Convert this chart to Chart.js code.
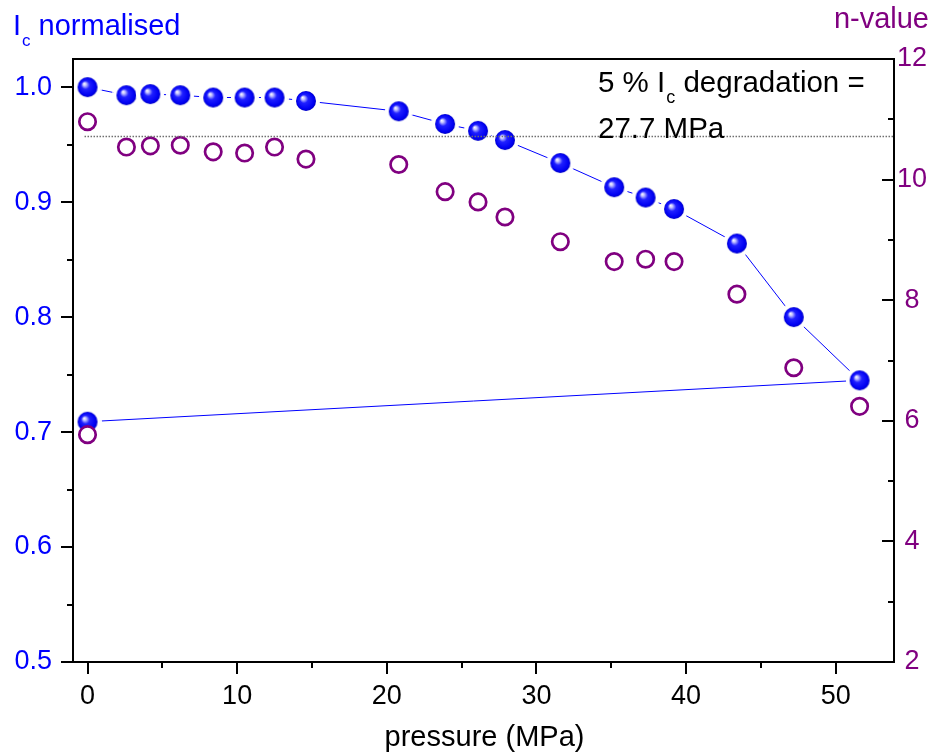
<!DOCTYPE html>
<html>
<head>
<meta charset="utf-8">
<script src="https://cdn.jsdelivr.net/npm/chart.js@4.4.0/dist/chart.umd.min.js"></script>
<style>
  html, body { margin: 0; padding: 0; background: #fff; }
  #wrap { width: 937px; height: 754px; }
</style>
</head>
<body>
<div id="wrap"><canvas id="pressureChart" width="937" height="754"></canvas></div>
<script>
// pressure steps, in measurement order (last point = back at 0 MPa)
const pressure = [0, 2.6, 4.2, 6.2, 8.4, 10.5, 12.5, 14.6, 20.8, 23.9, 26.1, 27.9, 31.6, 35.2, 37.3, 39.2, 43.4, 47.2, 51.6, 0];
const icNormalised = [1.000, 0.993, 0.994, 0.993, 0.991, 0.991, 0.991, 0.988, 0.979, 0.968, 0.962, 0.954, 0.934, 0.913, 0.904, 0.894, 0.864, 0.800, 0.745, 0.709];
const nValue = [10.96, 10.54, 10.56, 10.57, 10.46, 10.44, 10.54, 10.34, 10.25, 9.80, 9.63, 9.38, 8.97, 8.64, 8.68, 8.64, 8.10, 6.88, 6.24, 5.77];

// 5 % degradation reference line
const degradationX = [-0.2, 54];
const degradationY = [0.957, 0.957];

const xTickLabels = ['0', '10', '20', '30', '40', '50'];
const icTickLabels = ['0.5', '0.6', '0.7', '0.8', '0.9', '1.0'];
const nTickLabels = ['2', '4', '6', '8', '10', '12'];

const BLUE = '#0000ff';
const PURPLE = '#800080';
const FONT = "'Liberation Sans', Arial, sans-serif";

function findLabel(list, v) {
    return list.find(l => Math.abs(Number(l) - v) < 1e-6) || '';
}

// shaded ball marker with a white gap around it (line stops short of the marker)
const sphere = (() => {
    const r = 10, halo = 4, size = 2 * (r + halo);
    const c = document.createElement('canvas');
    c.width = size; c.height = size;
    const g = c.getContext('2d');
    const m = size / 2;
    g.fillStyle = '#fff';
    g.beginPath(); g.arc(m, m, r + halo, 0, Math.PI * 2); g.fill();
    const grad = g.createRadialGradient(m - 3.5, m - 3.5, 0, m, m, r);
    grad.addColorStop(0, '#ffffff');
    grad.addColorStop(0.16, '#c4c4ff');
    grad.addColorStop(0.42, '#2020ff');
    grad.addColorStop(0.85, '#0000f2');
    grad.addColorStop(1, '#0000c4');
    g.fillStyle = grad;
    g.beginPath(); g.arc(m, m, r, 0, Math.PI * 2); g.fill();
    return c;
})();

function drawSub(ctx, x, y, main, sub, rest, size, subSize, drop) {
    ctx.font = size + 'px ' + FONT;
    ctx.fillText(main, x, y);
    x += ctx.measureText(main).width + 1;
    ctx.font = subSize + 'px ' + FONT;
    ctx.fillText(sub, x, y + drop);
    x += ctx.measureText(sub).width;
    ctx.font = size + 'px ' + FONT;
    ctx.fillText(rest, x, y);
}

// frame, Origin-style tick marks and free text
const framePlugin = {
    id: 'frame',
    afterDraw(chart) {
        const { ctx, chartArea: a, scales } = chart;
        ctx.save();
        ctx.strokeStyle = '#000';
        ctx.lineWidth = 2;
        ctx.strokeRect(a.left, a.top, a.right - a.left, a.bottom - a.top);

        const seg = (x1, y1, x2, y2) => {
            ctx.beginPath(); ctx.moveTo(x1, y1); ctx.lineTo(x2, y2); ctx.stroke();
        };
        const inRange = (s, v) => v >= s.min - 1e-9 && v <= s.max + 1e-9;

        scales.x.ticks.forEach(t => {
            if (!inRange(scales.x, t.value)) return;
            const px = Math.round(scales.x.getPixelForValue(t.value));
            seg(px, a.bottom, px, a.bottom + (findLabel(xTickLabels, t.value) ? 12 : 6));
        });
        scales.y.ticks.forEach(t => {
            if (!inRange(scales.y, t.value)) return;
            const py = Math.round(scales.y.getPixelForValue(t.value));
            seg(a.left, py, a.left - (findLabel(icTickLabels, t.value) ? 12 : 6), py);
        });
        scales.y2.ticks.forEach(t => {
            if (!inRange(scales.y2, t.value)) return;
            const py = Math.round(scales.y2.getPixelForValue(t.value));
            seg(a.right, py, a.right - (findLabel(nTickLabels, t.value) ? 12 : 6), py);
        });

        ctx.textBaseline = 'alphabetic';
        ctx.textAlign = 'left';
        ctx.fillStyle = BLUE;
        drawSub(ctx, 13, 35, 'I', 'c', ' normalised', 29, 17, 11);

        ctx.fillStyle = PURPLE;
        ctx.font = '29px ' + FONT;
        ctx.textAlign = 'right';
        ctx.fillText('n-value', 929, 28);

        ctx.fillStyle = '#000';
        ctx.textAlign = 'center';
        ctx.fillText('pressure (MPa)', (a.left + a.right) / 2 + 1, 746);

        ctx.textAlign = 'left';
        drawSub(ctx, 598, 92, '5 % I', 'c', ' degradation =', 29.5, 18, 11);
        ctx.font = '29.5px ' + FONT;
        ctx.fillText('27.7 MPa', 598, 138);
        ctx.restore();
    }
};

const ctx = document.getElementById('pressureChart').getContext('2d');

new Chart(ctx, {
    type: 'scatter',
    data: {
        datasets: [{
            label: '5 % line',
            data: degradationX.map((x, i) => ({ x: x, y: degradationY[i] })),
            yAxisID: 'y',
            showLine: true,
            borderColor: '#707070',
            borderWidth: 1.5,
            borderDash: [1.5, 1.5],
            pointRadius: 0,
            order: 0
        }, {
            label: 'n-value',
            data: pressure.map((x, i) => ({ x: x, y: nValue[i] })),
            yAxisID: 'y2',
            showLine: false,
            pointStyle: 'circle',
            pointRadius: 8.2,
            borderWidth: 2.7,
            borderColor: PURPLE,
            backgroundColor: '#fff',
            order: 1
        }, {
            label: 'Ic normalised',
            data: pressure.map((x, i) => ({ x: x, y: icNormalised[i] })),
            yAxisID: 'y',
            showLine: true,
            borderColor: BLUE,
            borderWidth: 1,
            pointStyle: sphere,
            pointRadius: 10,
            order: 2
        }]
    },
    options: {
        responsive: false,
        animation: false,
        events: [],
        layout: { padding: { top: 59, left: 0, right: 0, bottom: 0 } },
        plugins: {
            legend: { display: false },
            tooltip: { enabled: false }
        },
        scales: {
            x: {
                type: 'linear',
                min: -0.97,
                max: 53.9,
                grid: { display: false, drawTicks: false },
                border: { display: false },
                afterFit: s => { s.height = 92; },
                ticks: {
                    stepSize: 5,
                    autoSkip: false,
                    includeBounds: false,
                    maxRotation: 0,
                    padding: 18,
                    color: '#000',
                    font: { family: FONT, size: 27 },
                    callback: v => findLabel(xTickLabels, v)
                }
            },
            y: {
                type: 'linear',
                position: 'left',
                min: 0.5,
                max: 1.0245,
                grid: { display: false, drawTicks: false },
                border: { display: false },
                afterFit: s => { s.width = 73; },
                ticks: {
                    stepSize: 0.05,
                    autoSkip: false,
                    includeBounds: false,
                    padding: 21,
                    color: BLUE,
                    font: { family: FONT, size: 27 },
                    callback: v => findLabel(icTickLabels, v)
                }
            },
            y2: {
                type: 'linear',
                position: 'right',
                min: 2,
                max: 12,
                grid: { display: false, drawTicks: false },
                border: { display: false },
                afterFit: s => { s.width = 43; },
                ticks: {
                    stepSize: 1,
                    autoSkip: false,
                    includeBounds: false,
                    crossAlign: 'center',
                    padding: 3,
                    color: PURPLE,
                    font: { family: FONT, size: 27 },
                    callback: v => findLabel(nTickLabels, v)
                }
            }
        }
    },
    plugins: [framePlugin]
});
</script>
</body>
</html>
